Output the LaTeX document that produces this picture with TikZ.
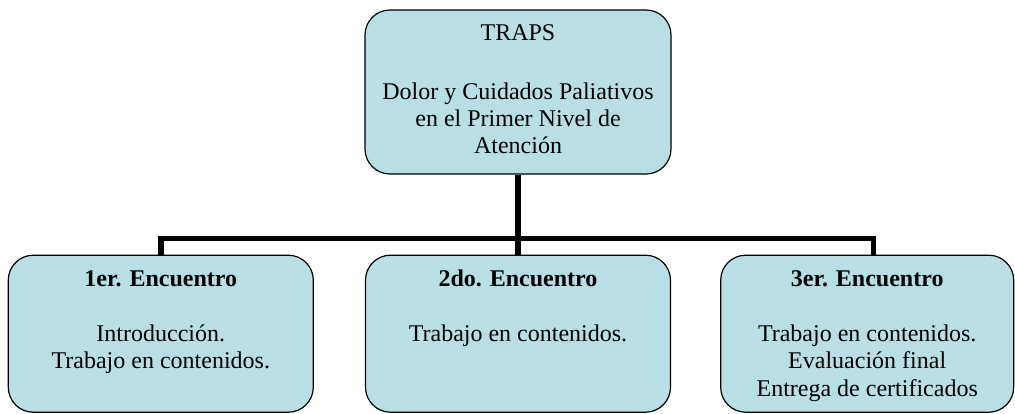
\documentclass[tikz,border=0pt]{standalone}
\usepackage{fontspec}
\setmainfont{Liberation Serif}
\usetikzlibrary{positioning}
\definecolor{celeste}{RGB}{184,223,227}
\newcommand{\contenido}[3]{\begin{minipage}[c][#2][t]{#1}\centering\rmfamily\fontsize{24pt}{27.5pt}\selectfont\vspace*{15pt}#3\end{minipage}}

\begin{document}
\begin{tikzpicture}[x=1pt,y=-1pt,
		caja/.style={draw,rectangle,rounded corners=25pt,fill=celeste,line width=1.2pt,inner sep=0pt},
		rama/.style={line width=5.5pt}]
		\useasboundingbox (0,0) rectangle (1015,413);

		\node [caja] (traps) at (518,92) {\contenido{306pt}{164pt}{TRAPS\\[31.5pt]Dolor y Cuidados Paliativos\\[-1pt]en el Primer Nivel de\\Atención}};
		\node [caja,below=80pt of traps] (enc2) {\contenido{305pt}{157pt}{\textbf{2do. Encuentro}\\[27.5pt]Trabajo en contenidos.}};
		\node [caja,left=51pt of enc2] (enc1) {\contenido{305pt}{157pt}{\textbf{1er. Encuentro}\\[27.5pt]Introducción.\\Trabajo en contenidos.}};
		\node [caja,right=49pt of enc2] (enc3) {\contenido{293pt}{157pt}{\textbf{3er. Encuentro}\\[27.5pt]Trabajo en contenidos.\\Evaluación final\\Entrega de certificados}};

		\draw [rama] (traps.south) -- (traps.south |- enc2.north);
		\draw [rama] (enc1.north) -- ++(0,-16) -| ([xshift=6.5pt]enc3.north);
	\end{tikzpicture}
\end{document}
